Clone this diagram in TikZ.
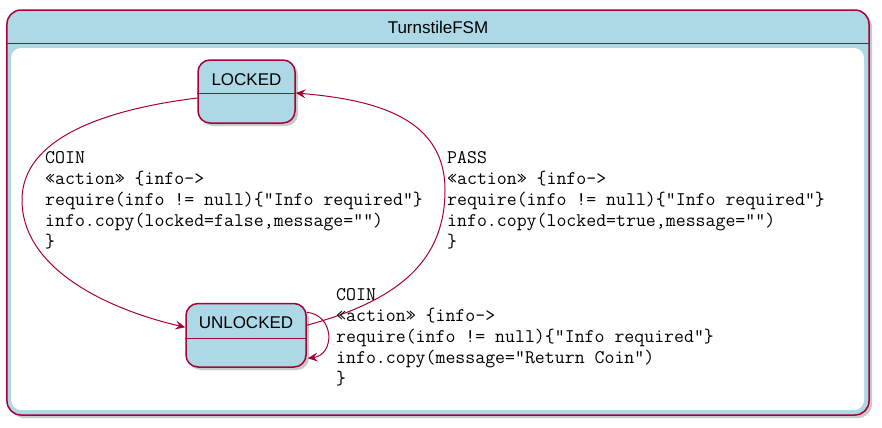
\documentclass[tikz,border=0pt]{standalone}
\usepackage{fontspec}
\setmainfont{Liberation Sans}
\usetikzlibrary{arrows.meta,calc,shadows}
\definecolor{pblue}{HTML}{ADD8E6}
\definecolor{pred}{HTML}{A80036}
\begin{document}
\begin{tikzpicture}[x=1bp,y=-1bp,
  statebox/.style={draw=pred, fill=pblue, line width=1.5bp, rounded corners=12bp, inner sep=0pt,
    drop shadow={shadow xshift=3bp, shadow yshift=-3bp, fill=black!60, opacity=0.35}},
  fsmbox/.style={draw=pred, fill=pblue, line width=1.5bp, rounded corners=14bp, inner sep=0pt,
    drop shadow={shadow xshift=3bp, shadow yshift=-3bp, fill=black!60, opacity=0.35}},
  bodybox/.style={fill=white, rounded corners=10bp, inner sep=0pt},
  divline/.style={draw=pred, line width=1.5bp},
  sanstext/.style={inner sep=0pt, font=\fontsize{17bp}{20bp}\selectfont},
  trans/.style={draw=pred, line width=1bp, -{Stealth[length=10bp,width=9bp,inset=4bp]}},
  lbl/.style={anchor=base west, align=left, inner sep=0pt, font=\ttfamily\fontsize{19.3bp}{21bp}\selectfont}
]
\useasboundingbox (0,0) rectangle (882,427);
% container
\node[fsmbox, minimum width=862bp, minimum height=405bp] (fsm) at (438,212.5) {};
\draw[divline] ($(fsm.north west)+(0,34)$) -- ($(fsm.north east)+(0,34)$);
\node[bodybox, minimum width=853bp, minimum height=362bp] (body) at (437.5,229) {};
\node[sanstext] (title) at (438,27) {TurnstileFSM};
% states
\node[statebox, minimum width=97bp, minimum height=63bp] (L) at (246.5,91.5) {};
\draw[divline] ($(L.north west)+(0,34)$) -- ($(L.north east)+(0,34)$);
\node[sanstext] (Lt) at (246.5,80) {LOCKED};
\node[statebox, minimum width=120bp, minimum height=63.5bp] (U) at (246,335.25) {};
\draw[divline] ($(U.north west)+(0,35.5)$) -- ($(U.north east)+(0,35.5)$);
\node[sanstext] (Ut) at (246,322.5) {UNLOCKED};
% transitions
\draw[trans] ([yshift=-6.5bp]L.west) .. controls (100,110) and (22,140) .. (22,200)
  .. controls (22,270) and (110,310) .. ([yshift=8bp]U.west);
\draw[trans] ([yshift=10bp]U.east) .. controls (400,300) and (445,260) .. (445,190)
  .. controls (445,120) and (380,100) .. ([yshift=-1.5bp]L.east);
\draw[trans] ([yshift=23bp]U.east) .. controls (335,315) and (335,355) .. ([xshift=1bp,yshift=-23bp]U.east);
% labels (anchor = baseline of the last line)
\node[lbl] (l1) at (45,247.5) {COIN\\«action» \{info->\\require(info != null)\{"Info required"\}\\info.copy(locked=false,message="")\\\}};
\node[lbl] (l2) at (447,247.5) {PASS\\«action» \{info->\\require(info != null)\{"Info required"\}\\info.copy(locked=true,message="")\\\}};
\node[lbl] (l3) at (336,384.5) {COIN\\«action» \{info->\\require(info != null)\{"Info required"\}\\info.copy(message="Return Coin")\\\}};
\end{tikzpicture}
\end{document}
